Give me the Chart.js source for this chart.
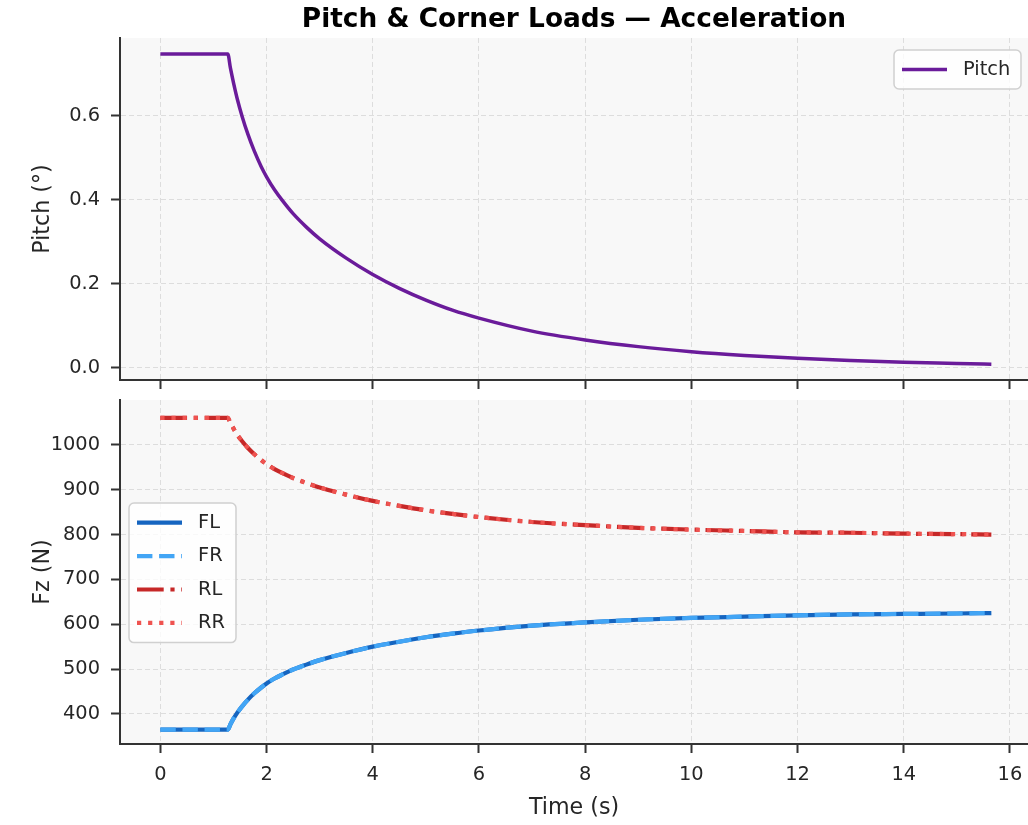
<!DOCTYPE html>
<html>
<head>
<meta charset="utf-8">
<title>Pitch & Corner Loads</title>
<script src="https://cdn.jsdelivr.net/npm/chart.js@4.4.1/dist/chart.umd.min.js"></script>
<style>
  html, body { margin: 0; padding: 0; background: #fff; overflow: hidden; }
  #wrap { position: relative; width: 1028px; height: 825px; }
  #top { position: absolute; left: 0; top: 0; width: 1028px; height: 392px; }
  #bottom { position: absolute; left: 0; top: 392px; width: 1028px; height: 433px; }
</style>
</head>
<body>
<div id="wrap">
  <div id="top"><canvas id="pitchChart"></canvas></div>
  <div id="bottom"><canvas id="loadChart"></canvas></div>
</div>
<script>
// values
const time  = [0, 1.27, 1.32, 1.38, 1.45, 1.54, 1.65, 1.77, 1.9, 2.0, 2.15, 2.3, 2.5, 2.75, 3.0, 3.5, 4.0, 4.5, 5.0, 5.5, 6.0, 7.0, 8.0, 9.0, 10.0, 11.0, 12.0, 13.0, 14.0, 15.0, 15.65];
const pitch = [0.748, 0.748, 0.714, 0.678, 0.640, 0.599, 0.556, 0.516, 0.479, 0.455, 0.424, 0.398, 0.367, 0.335, 0.307, 0.261, 0.222, 0.189, 0.161, 0.137, 0.118, 0.087, 0.066, 0.050, 0.038, 0.029, 0.022, 0.017, 0.013, 0.010, 0.008];
const fzFL  = [365, 365, 377, 390, 403, 417, 432, 446, 459, 468, 479, 488, 499, 510, 520, 536, 550, 561, 571, 579, 586, 597, 604, 610, 614, 617, 620, 622, 623, 624, 625];
const fzFR  = [365, 365, 377, 390, 403, 417, 432, 446, 459, 468, 479, 488, 499, 510, 520, 536, 550, 561, 571, 579, 586, 597, 604, 610, 614, 617, 620, 622, 623, 624, 625];
const fzRL  = [1060, 1060, 1048, 1036, 1022, 1008, 993, 979, 966, 957, 946, 937, 926, 915, 905, 889, 875, 864, 854, 846, 839, 828, 821, 815, 811, 808, 805, 804, 802, 801, 800];
const fzRR  = [1060, 1060, 1048, 1036, 1022, 1008, 993, 979, 966, 957, 946, 937, 926, 915, 905, 889, 875, 864, 854, 846, 839, 828, 821, 815, 811, 808, 805, 804, 802, 801, 800];

const timeTicks  = [0, 2, 4, 6, 8, 10, 12, 14, 16];
const pitchTicks = [0.0, 0.2, 0.4, 0.6];
const fzTicks    = [400, 500, 600, 700, 800, 900, 1000];

const toPoints = ys => ys.map((y, i) => ({ x: time[i], y: y }));

Chart.defaults.font.family = "'DejaVu Sans', sans-serif";
Chart.defaults.color = '#262626';
Chart.defaults.devicePixelRatio = 1;

const tickFont  = { size: 19.4 };
const labelFont = { size: 22.2 };

const gridStyle = { color: '#dddddd', lineWidth: 1, tickColor: '#333', tickWidth: 2, tickLength: 9 };
const borderStyle = { color: '#333', width: 2, dash: [5, 3] };

// light grey plot face
const plotBg = {
  id: 'plotBg',
  beforeDraw(chart) {
    const { ctx, chartArea: a } = chart;
    ctx.save();
    ctx.fillStyle = '#f8f8f8';
    ctx.fillRect(a.left, a.top, a.right - a.left, a.bottom - a.top);
    ctx.restore();
  }
};

// legend box drawn inside the axes, matplotlib style
const boxLegend = {
  id: 'boxLegend',
  afterDatasetsDraw(chart, args, opts) {
    const ctx = chart.ctx;
    const sets = chart.data.datasets;
    const h = opts.rowH * sets.length + opts.padY * 2;
    ctx.save();
    ctx.beginPath();
    ctx.roundRect(opts.x, opts.y, opts.w, h, 5);
    ctx.fillStyle = 'rgba(255,255,255,0.8)';
    ctx.fill();
    ctx.lineWidth = 1.5;
    ctx.strokeStyle = '#d0d0d0';
    ctx.stroke();
    sets.forEach((ds, i) => {
      const cy = opts.y + opts.padY + opts.rowH * (i + 0.5);
      ctx.beginPath();
      ctx.setLineDash(ds.borderDash || []);
      ctx.lineWidth = ds.borderWidth;
      ctx.strokeStyle = ds.borderColor;
      ctx.moveTo(opts.x + 8, cy);
      ctx.lineTo(opts.x + 53, cy);
      ctx.stroke();
      ctx.setLineDash([]);
      ctx.fillStyle = '#262626';
      ctx.font = "19.4px 'DejaVu Sans'";
      ctx.textBaseline = 'middle';
      ctx.textAlign = 'left';
      ctx.fillText(ds.label, opts.x + 69, cy);
    });
    ctx.restore();
  }
};

function xAxis(showLabels) {
  return {
    type: 'linear',
    min: -0.76,
    max: 16.34,
    afterBuildTicks: s => { s.ticks = timeTicks.map(v => ({ value: v })); },
    afterFit: s => { s.height = showLabels ? 81 : 12; s.paddingLeft = 0; s.paddingRight = 0; },
    grid: gridStyle,
    border: borderStyle,
    ticks: { display: showLabels, padding: 10, font: tickFont, callback: v => String(v) },
    title: { display: showLabels, text: 'Time (s)', font: labelFont, padding: { top: 0, bottom: 3 } }
  };
}

function yAxis(min, max, ticks, fmt, label) {
  return {
    min: min,
    max: max,
    afterBuildTicks: s => { s.ticks = ticks.map(v => ({ value: v })); },
    afterFit: s => { s.width = 120; s.paddingTop = 0; s.paddingBottom = 0; },
    grid: gridStyle,
    border: borderStyle,
    ticks: { padding: 11, font: tickFont, callback: fmt },
    title: { display: true, text: label, font: labelFont, padding: { top: 30, bottom: 0 } }
  };
}

// order: lower number is painted later (on top)
function line(label, values, color, width, dash, order) {
  return {
    label: label,
    data: toPoints(values),
    borderColor: color,
    borderWidth: width,
    borderDash: dash,
    borderCapStyle: 'butt',
    pointRadius: 0,
    fill: false,
    order: order,
    cubicInterpolationMode: 'monotone'
  };
}

new Chart(document.getElementById('pitchChart'), {
  type: 'line',
  data: {
    datasets: [line('Pitch', pitch, '#6a1b9a', 3.5, [], 1)]
  },
  options: {
    responsive: true,
    maintainAspectRatio: false,
    animation: false,
    layout: { padding: 0 },
    scales: {
      x: xAxis(false),
      y: yAxis(-0.0296, 0.786, pitchTicks, v => v.toFixed(1), 'Pitch (°)')
    },
    plugins: {
      legend: { display: false },
      tooltip: { enabled: false },
      title: {
        display: true,
        fullSize: false,
        text: 'Pitch & Corner Loads — Acceleration',
        color: '#000',
        font: { size: 26.4, weight: 'bold' },
        padding: { top: 4.2, bottom: 2.1 }
      },
      boxLegend: { x: 894, y: 50, w: 127, rowH: 34, padY: 2.5 }
    }
  },
  plugins: [plotBg, boxLegend]
});

new Chart(document.getElementById('loadChart'), {
  type: 'line',
  data: {
    datasets: [
      line('FL', fzFL, '#1565c0', 4.2, [], 4),
      line('FR', fzFR, '#42a5f5', 4.2, [15.4, 6.7], 3),
      line('RL', fzRL, '#c62828', 4.2, [26.7, 6.7, 4.2, 6.7], 2),
      line('RR', fzRR, '#ef5350', 4.2, [4.2, 6.9], 1)
    ]
  },
  options: {
    responsive: true,
    maintainAspectRatio: false,
    animation: false,
    layout: { padding: { top: 8, left: 0, right: 0, bottom: 0 } },
    scales: {
      x: xAxis(true),
      y: yAxis(333, 1100, fzTicks, v => String(v), 'Fz (N)')
    },
    plugins: {
      legend: { display: false },
      tooltip: { enabled: false },
      boxLegend: { x: 129, y: 111, w: 107, rowH: 33.4, padY: 3 }
    }
  },
  plugins: [plotBg, boxLegend]
});
</script>
</body>
</html>
